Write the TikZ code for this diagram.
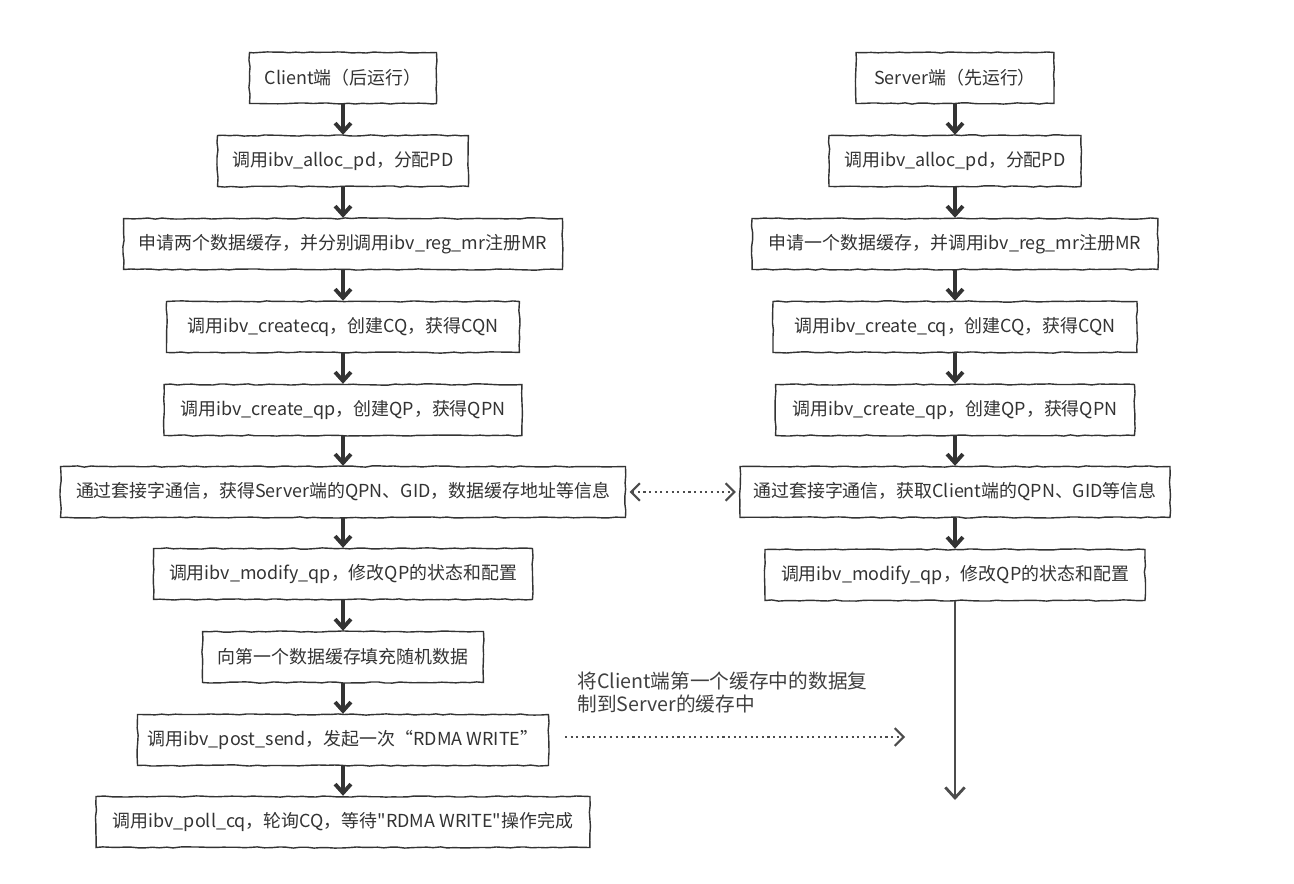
\documentclass[tikz,border=0pt]{standalone}
\usepackage{fontspec}
\setmainfont{Noto Sans CJK SC}
\usetikzlibrary{arrows.meta,decorations.pathmorphing}

\begin{document}
\pgfmathsetseed{11}
\begin{tikzpicture}[
    x=0.02cm, y=-0.02cm,
    box/.style={rectangle, draw=black!80, fill=white, line width=0.8pt, decorate, decoration={random steps, segment length=4pt, amplitude=0.35pt}, minimum height=1.02cm, inner sep=2pt, text=black!80, font=\fontsize{10.2}{12}\selectfont},
    line/.style={draw=black!80, line width=2.2pt, -{Straight Barb[length=5pt, width=9pt]}},
    longline/.style={draw=black!70, line width=1.6pt, -{Straight Barb[length=6pt, width=11pt]}},
    dotline/.style={draw=black!70, line width=1.2pt, dotted, {Straight Barb[length=5pt, width=10pt]}-{Straight Barb[length=5pt, width=10pt]}},
    dotarrow/.style={draw=black!70, line width=1.2pt, dotted, -{Straight Barb[length=5pt, width=10pt]}}
]
\useasboundingbox (0,0) rectangle (1294,884);

% Client side
\node[box, minimum width=3.74cm] (c1) at (343,78) {Client端（后运行）};
\node[box, minimum width=5.02cm] (c2) at (343,161) {调用ibv\_alloc\_pd，分配PD};
\node[box, minimum width=8.78cm] (c3) at (343,244) {申请两个数据缓存，并分别调用ibv\_reg\_mr注册MR};
\node[box, minimum width=7.06cm] (c4) at (343,327) {调用ibv\_createcq，创建CQ，获得CQN};
\node[box, minimum width=7.16cm] (c5) at (343,410) {调用ibv\_create\_qp，创建QP，获得QPN};
\node[box, minimum width=11.3cm] (c6) at (343,492) {通过套接字通信，获得Server端的QPN、GID，数据缓存地址等信息};
\node[box, minimum width=7.58cm] (c7) at (343,574) {调用ibv\_modify\_qp，修改QP的状态和配置};
\node[box, minimum width=5.62cm] (c8) at (343,657) {向第一个数据缓存填充随机数据};
\node[box, minimum width=8.22cm] (c9) at (343,740) {调用ibv\_post\_send，发起一次“RDMA WRITE”};
\node[box, minimum width=9.88cm] (c10) at (343,822) {调用ibv\_poll\_cq，轮询CQ，等待\textquotedbl RDMA WRITE\textquotedbl 操作完成};

% Server side
\node[box, minimum width=3.96cm] (s1) at (955,78) {Server端（先运行）};
\node[box, minimum width=5.04cm] (s2) at (955,161) {调用ibv\_alloc\_pd，分配PD};
\node[box, minimum width=8.12cm] (s3) at (955,244) {申请一个数据缓存，并调用ibv\_reg\_mr注册MR};
\node[box, minimum width=7.28cm] (s4) at (955,327) {调用ibv\_create\_cq，创建CQ，获得CQN};
\node[box, minimum width=7.18cm] (s5) at (955,410) {调用ibv\_create\_qp，创建QP，获得QPN};
\node[box, minimum width=8.6cm] (s6) at (955,492) {通过套接字通信，获取Client端的QPN、GID等信息};
\node[box, minimum width=7.6cm] (s7) at (955,575) {调用ibv\_modify\_qp，修改QP的状态和配置};

% Paths
\foreach \a/\b in {c1/c2, c2/c3, c3/c4, c4/c5, c5/c6, c6/c7, c7/c8, c8/c9, c9/c10,
                   s1/s2, s2/s3, s3/s4, s4/s5, s5/s6, s6/s7}
    \draw[line] (\a.south) -- (\b.north);

\coordinate (send) at (955,800);
\draw[longline] (s7.south) -- (send);

\draw[dotline] ([xshift=2pt]c6.east) -- ([xshift=-2pt]s6.west);

% RDMA write note
\coordinate (wstart) at (565,737);
\coordinate (wend) at (905,737);
\draw[dotarrow] (wstart) -- (wend);
\node[anchor=north west, align=left, inner sep=0pt, text=black!75, font=\fontsize{11.2}{13}\selectfont] (copynote) at (577,672) {将Client端第一个缓存中的数据复\\制到Server的缓存中};

\end{tikzpicture}
\end{document}
